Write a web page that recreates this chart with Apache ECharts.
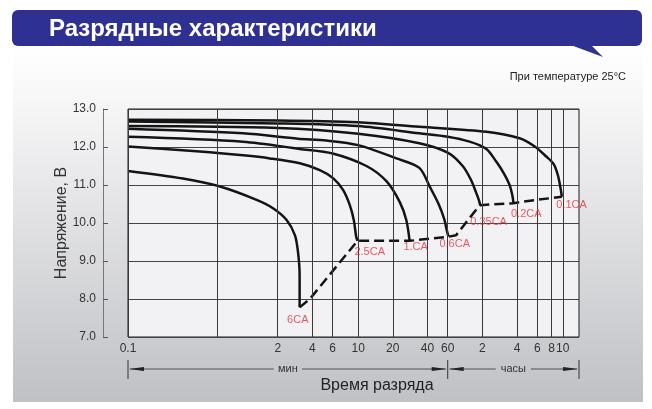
<!DOCTYPE html>
<html>
<head>
<meta charset="utf-8">
<script src="https://cdn.jsdelivr.net/npm/echarts@6/dist/echarts.min.js"></script>
<style>
html, body {margin: 0; padding: 0; background: #fff;}
#chart {width: 652px; height: 409px;}
</style>
</head>
<body>
<div id="chart"></div>
<script>
/* Discharge curves: [time, minutes ; voltage, V]. */
var curve01CA  = [[0.1, 12.72], [2, 12.70], [10, 12.65], [34, 12.53], [130, 12.40], [253, 12.23], [340, 12.02], [431, 11.75], [500, 11.55], [545, 11.25], [575, 10.90], [589, 10.69]];
var curve02CA  = [[0.1, 12.67], [2, 12.62], [10, 12.55], [34, 12.36], [60, 12.27], [93, 12.14], [130, 11.95], [159, 11.61], [185, 11.30], [207, 11.00], [218, 10.75], [224, 10.52]];
var curve035CA = [[0.1, 12.55], [2, 12.50], [10, 12.35], [34, 12.10], [60, 11.85], [81, 11.50], [95, 11.15], [106, 10.80], [112, 10.60], [115, 10.47]];
var curve06CA  = [[0.1, 12.48], [1, 12.36], [3, 12.22], [5.3, 12.17], [10, 12.05], [21.5, 11.70], [34, 11.45], [42, 10.95], [50, 10.50], [56, 10.10], [59, 9.80], [61, 9.64]];
var curve1CA   = [[0.1, 12.27], [1, 12.14], [3.1, 11.95], [6, 11.83], [11.8, 11.50], [17.6, 11.10], [23, 10.55], [26.2, 10.08], [28, 9.53]];
var curve25CA  = [[0.1, 12.01], [0.42, 11.88], [1, 11.78], [1.71, 11.70], [3.11, 11.57], [4.64, 11.39], [6.05, 11.18], [7.39, 10.87], [8.46, 10.47], [9.16, 10.08], [9.6, 9.65], [9.86, 9.53]];
var curve6CA   = [[0.1, 11.37], [0.3, 11.17], [0.63, 10.96], [1.31, 10.61], [1.82, 10.39], [2.39, 10.08], [2.82, 9.68], [3.0, 9.24], [3.1, 8.63], [3.1, 7.78]];

/* End-of-discharge voltage, dashed */
var endVoltage = [[3.1, 7.78], [3.8, 8.0], [9.86, 9.53], [28, 9.53], [61, 9.64], [71, 9.68], [106, 10.35], [115, 10.47], [224, 10.52], [300, 10.58], [589, 10.69]];

var rateLabels = ['6CA', '2.5CA', '1.CA', '0.6CA', '0.35CA', '0.2CA', '0.1CA'];
var labelTimes = [2.99, 12.6, 31.6, 69, 136, 289, 715];
var labelVolts = [7.45, 9.24, 9.37, 9.45, 10.03, 10.24, 10.47];

/* Vertical grid lines (minutes) and their tick text */
var xTicks      = [0.1, 0.6, 2, 4, 6, 10, 20, 40, 60, 120, 240, 360, 480, 600];
var xTickLabels = ['0.1', '', '2', '4', '6', '10', '20', '40', '60', '2', '4', '6', '8', '10'];

var FONT = '"Liberation Sans", Arial, sans-serif';

var chart = echarts.init(document.getElementById('chart'));

var curves = [curve01CA, curve02CA, curve035CA, curve06CA, curve1CA, curve25CA, curve6CA];
var series = curves.map(function(c)
{
    return {
        type: 'line', data: c, showSymbol: false, smooth: 0.3, silent: true, z: 4,
        lineStyle: {color: '#141414', width: 2.5}
    };
});

series.push({
    type: 'line', data: endVoltage, showSymbol: false, silent: true, z: 4,
    lineStyle: {color: '#141414', width: 2.5, type: [10, 5]}
});

series.push({
    type: 'scatter', symbolSize: 0, silent: true, z: 5,
    data: rateLabels.map(function(name, i) { return {name: name, value: [labelTimes[i], labelVolts[i]]}; }),
    label: {show: true, position: 'inside', formatter: '{b}', color: '#e3323f', fontSize: 11, fontFamily: FONT}
});

/* Grid lines drawn as mark lines, labels become the x tick text */
series.push({
    type: 'line', data: [], silent: true, z: 2,
    markLine: {
        silent: true, symbol: 'none', animation: false,
        lineStyle: {color: '#3a3a3a', width: 1, type: 'solid'},
        label: {show: true, position: 'start', formatter: '{b}', color: '#333', fontSize: 12, fontFamily: FONT, distance: 6},
        data: xTicks.map(function(v, i) { return {name: xTickLabels[i], xAxis: v}; })
    }
});

var option = {
    animation: false,
    grid: {left: 128, right: 73, top: 109, bottom: 72, show: true, backgroundColor: '#f2f2f4', borderColor: '#1a1a1a', borderWidth: 1},
    xAxis: {
        type: 'log', logBase: 10, min: 0.1, max: 830,
        axisLine: {show: false}, axisTick: {show: false}, axisLabel: {show: false}, splitLine: {show: false}
    },
    yAxis: [
        {
            type: 'value', min: 7, max: 13, interval: 1,
            axisLine: {show: false}, axisTick: {show: false}, axisLabel: {show: false},
            splitLine: {show: true, lineStyle: {color: '#444', width: 1}}
        },
        {
            type: 'value', min: 7, max: 13, interval: 1, position: 'left', offset: 25,
            axisLine: {show: true, lineStyle: {color: '#777', width: 1}},
            axisTick: {show: true, inside: true, length: 5, lineStyle: {color: '#555'}},
            axisLabel: {color: '#333', fontSize: 12, fontFamily: FONT, margin: 7, formatter: function(v) { return v.toFixed(1); }},
            splitLine: {show: false},
            name: 'Напряжение, В', nameLocation: 'middle', nameGap: 33, nameMoveOverlap: false,
            nameTextStyle: {color: '#333', fontSize: 16, fontFamily: FONT}
        }
    ],
    series: series
};

chart.setOption(option);

/* Decorations: banner, background panel, time ranges under the axis */
var xMin  = chart.convertToPixel({xAxisIndex: 0}, 0.1);
var xHour = chart.convertToPixel({xAxisIndex: 0}, 60);
var xEnd  = chart.convertToPixel({xAxisIndex: 0}, 830);
var rowY  = 369;

function arrowRow(x1, x2, text, out)
{
    var mid = (x1 + x2) / 2;
    var half = text.length * 3.4 + 4;
    out.push({type: 'line', shape: {x1: x1 + 2, y1: rowY, x2: mid - half, y2: rowY}, style: {stroke: '#333', lineWidth: 0.8}, z: 10});
    out.push({type: 'line', shape: {x1: mid + half, y1: rowY, x2: x2 - 2, y2: rowY}, style: {stroke: '#333', lineWidth: 0.8}, z: 10});
    out.push({type: 'polygon', shape: {points: [[x1 + 1, rowY], [x1 + 16, rowY - 2], [x1 + 16, rowY + 2]]}, style: {fill: '#222'}, z: 10});
    out.push({type: 'polygon', shape: {points: [[x2 - 1, rowY], [x2 - 16, rowY - 2], [x2 - 16, rowY + 2]]}, style: {fill: '#222'}, z: 10});
    out.push({type: 'text', x: mid, y: rowY, style: {text: text, fill: '#333', fontSize: 11, fontFamily: FONT, align: 'center', verticalAlign: 'middle'}, z: 10});
}

var elements = [
    {
        type: 'rect', shape: {x: 13, y: 46, width: 630, height: 356}, z: -100,
        style: {fill: new echarts.graphic.LinearGradient(0, 0, 0, 1, [
            {offset: 0, color: '#ffffff'}, {offset: 0.15, color: '#f7f7f8'}, {offset: 1, color: '#c0c1c5'}
        ])}
    },
    {type: 'polygon', shape: {points: [[568, 44], [590, 44], [603, 57]]}, style: {fill: '#2e3192'}, z: 9},
    {type: 'rect', shape: {x: 12, y: 10, width: 630, height: 36, r: 6}, style: {fill: '#2e3192'}, z: 9},
    {type: 'text', x: 49, y: 29, style: {text: 'Разрядные характеристики', fill: '#fff', fontSize: 24, fontWeight: 'bold', fontFamily: FONT, verticalAlign: 'middle'}, z: 10},
    {type: 'text', x: 626, y: 77, style: {text: 'При температуре 25°C', fill: '#222', fontSize: 11, fontFamily: FONT, align: 'right', verticalAlign: 'middle'}, z: 10},
    {type: 'text', x: 377, y: 386, style: {text: 'Время разряда', fill: '#222', fontSize: 16, fontFamily: FONT, align: 'center', verticalAlign: 'middle'}, z: 10}
];

[xMin, xHour, xEnd].forEach(function(x)
{
    elements.push({type: 'line', shape: {x1: x, y1: 360, x2: x, y2: 379}, style: {stroke: '#333', lineWidth: 1}, z: 10});
});
arrowRow(xMin, xHour, 'мин', elements);
arrowRow(xHour, xEnd, 'часы', elements);

chart.setOption({graphic: {elements: elements}});
</script>
</body>
</html>
